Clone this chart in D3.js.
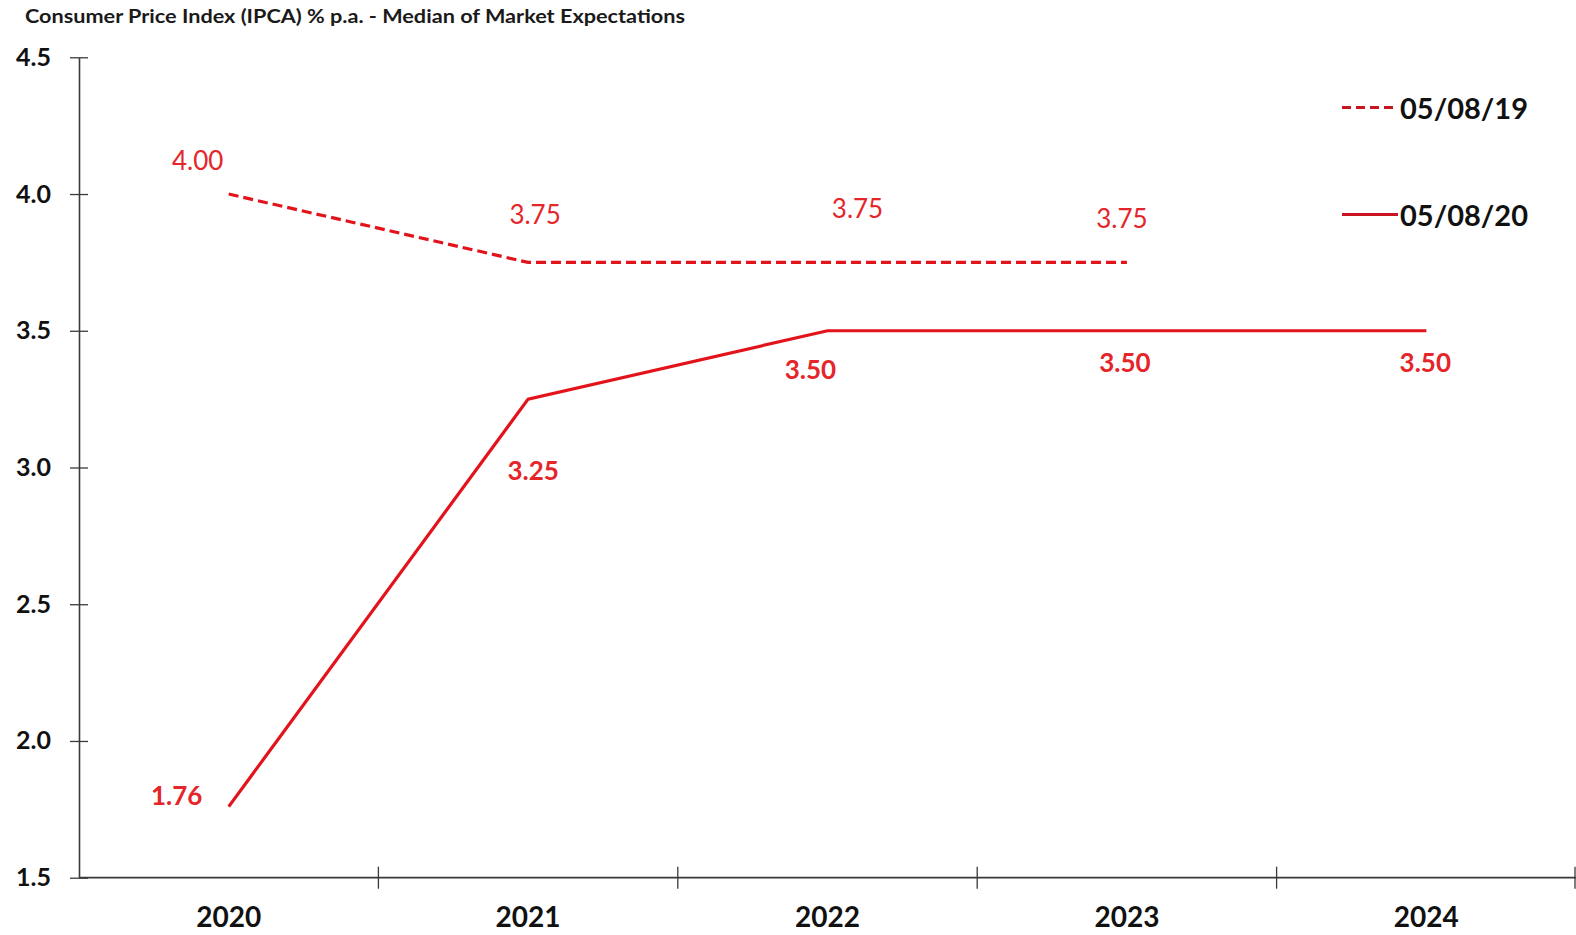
<!DOCTYPE html>
<html>
<head>
<meta charset="utf-8">
<script src="https://cdn.jsdelivr.net/npm/d3@7"></script>
<style>
  html, body { margin: 0; padding: 0; background: #ffffff; }
  svg { display: block; font-family: Lato, "Open Sans", sans-serif; }
</style>
</head>
<body>
<svg id="chart" width="1576" height="935"></svg>
<script>
// Years on the horizontal axis
const years = ["2020", "2021", "2022", "2023", "2024"];
// Median IPCA expectations (% p.a.) by survey date
const survey2019 = [4.00, 3.75, 3.75, 3.75, null];
const survey2020 = [1.76, 3.25, 3.50, 3.50, 3.50];
const seriesNames = ["05/08/19", "05/08/20"];
const yTicks = [1.5, 2.0, 2.5, 3.0, 3.5, 4.0, 4.5];

// Label placement relative to each point (layout only)
const offsets2019 = [[-31, -34], [7, -48], [30, -54], [-5, -44], null];
const offsets2020 = [[-52, -12], [5, 71], [-17, 38], [-2, 31], [-1, 31]];

const svg = d3.select("#chart");
const red = "#e3131c";
const labelRed = "#e4262b";
const axisColor = "#3a3a3a";

const plotLeft = 79, plotRight = 1576, plotTop = 57.3, plotBottom = 877.7;

const x = d3.scaleBand().domain(years).range([plotLeft, plotRight]).padding(0);
const y = d3.scaleLinear().domain([1.5, 4.5]).range([plotBottom, plotTop]);
const cx = d => x(d) + x.bandwidth() / 2;

// Title
svg.append("text")
  .attr("x", 25).attr("y", 23)
  .attr("font-size", 19).attr("font-weight", 700).attr("fill", "#1a1a1a")
  .attr("textLength", 660).attr("lengthAdjust", "spacingAndGlyphs")
  .text("Consumer Price Index (IPCA) % p.a. - Median of Market Expectations");

// Y axis with ticks crossing the line
const yAxis = svg.append("g").attr("transform", `translate(${plotLeft},0)`)
  .call(d3.axisLeft(y).tickValues(yTicks).tickFormat(d3.format(".1f")).tickSize(9).tickSizeOuter(0));
yAxis.select(".domain").attr("stroke", axisColor).attr("stroke-width", 1.6);
yAxis.selectAll(".tick line").attr("stroke", axisColor).attr("stroke-width", 1.3).attr("x2", 9).attr("x1", -9);
yAxis.selectAll(".tick text")
  .attr("x", -28).attr("font-size", 25).attr("font-weight", 700).attr("fill", "#111")
  .attr("font-family", "Lato, sans-serif");

// X axis: category labels centred in bands, ticks at band edges
const xAxis = svg.append("g").attr("transform", `translate(0,${plotBottom})`)
  .call(d3.axisBottom(x).tickSize(0).tickSizeOuter(0));
xAxis.select(".domain").remove();
xAxis.selectAll(".tick text")
  .attr("y", 29.5).attr("dy", "0.71em")
  .attr("font-size", 28).attr("font-weight", 700).attr("fill", "#111")
  .attr("font-family", "Lato, sans-serif");

svg.append("line")
  .attr("x1", plotLeft).attr("x2", plotRight).attr("y1", plotBottom).attr("y2", plotBottom)
  .attr("stroke", axisColor).attr("stroke-width", 1.8);

const edges = years.map(d => x(d)).concat([x(years[years.length - 1]) + x.bandwidth()]);
svg.append("g").selectAll("line").data(edges.slice(1)).join("line")
  .attr("x1", d => Math.min(d, plotRight - 1)).attr("x2", d => Math.min(d, plotRight - 1))
  .attr("y1", plotBottom - 11).attr("y2", plotBottom + 11)
  .attr("stroke", axisColor).attr("stroke-width", 1.3);

// Lines
const line = d3.line()
  .defined(d => d.v != null)
  .x(d => cx(d.year)).y(d => y(d.v));

const pts2019 = years.map((yr, i) => ({ year: yr, v: survey2019[i], off: offsets2019[i] }));
const pts2020 = years.map((yr, i) => ({ year: yr, v: survey2020[i], off: offsets2020[i] }));

svg.append("path").datum(pts2019)
  .attr("d", line).attr("fill", "none")
  .attr("stroke", red).attr("stroke-width", 3.2)
  .attr("stroke-dasharray", "10,5");

svg.append("path").datum(pts2020)
  .attr("d", line).attr("fill", "none")
  .attr("stroke", red).attr("stroke-width", 3.2);

// Value labels
svg.append("g").selectAll("text").data(pts2019.filter(d => d.v != null)).join("text")
  .attr("x", d => cx(d.year) + d.off[0]).attr("y", d => y(d.v) + d.off[1])
  .attr("text-anchor", "middle").attr("dominant-baseline", "central")
  .attr("font-size", 26).attr("font-weight", 400).attr("fill", labelRed)
  .text(d => d3.format(".2f")(d.v));

svg.append("g").selectAll("text").data(pts2020).join("text")
  .attr("x", d => cx(d.year) + d.off[0]).attr("y", d => y(d.v) + d.off[1])
  .attr("text-anchor", "middle").attr("dominant-baseline", "central")
  .attr("font-size", 26).attr("font-weight", 700).attr("fill", labelRed)
  .text(d => d3.format(".2f")(d.v));

// Legend
const legend = svg.append("g");
const legendRows = [
  { name: seriesNames[0], dash: "9,5", y: 107.5 },
  { name: seriesNames[1], dash: null, y: 214.5 }
];
legendRows.forEach(r => {
  legend.append("line")
    .attr("x1", 1342).attr("x2", 1398).attr("y1", r.y).attr("y2", r.y)
    .attr("stroke", "#c8151f").attr("stroke-width", 3)
    .attr("stroke-dasharray", r.dash);
  legend.append("text")
    .attr("x", 1400).attr("y", r.y).attr("dominant-baseline", "central")
    .attr("font-size", 29).attr("font-weight", 700).attr("fill", "#111")
    .text(r.name);
});
</script>
</body>
</html>
